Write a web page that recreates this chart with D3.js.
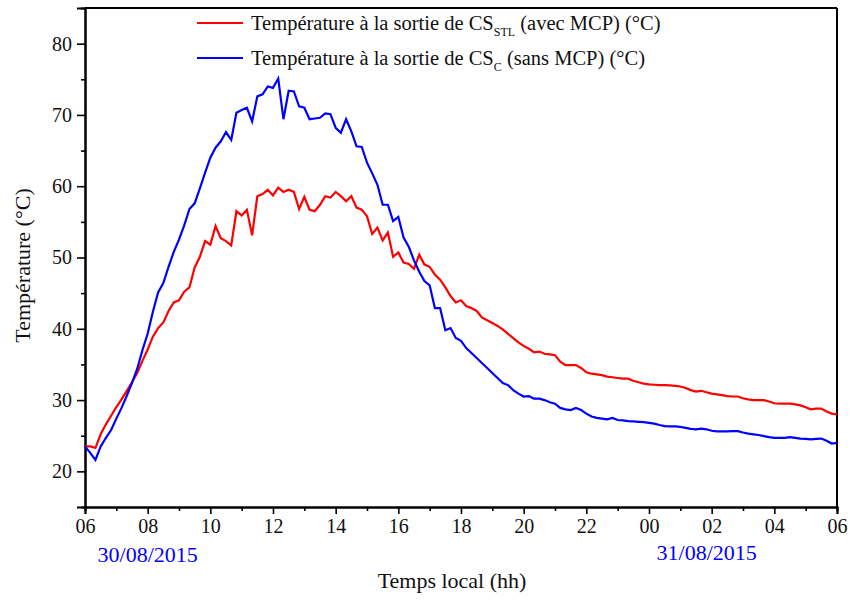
<!DOCTYPE html>
<html>
<head>
<meta charset="utf-8">
<script src="https://cdn.jsdelivr.net/npm/d3@7"></script>
<style>
  body { margin: 0; background: #fff; }
  svg, svg text { font-family: "Liberation Serif", "Times New Roman", serif; }
</style>
</head>
<body>
<div id="chart"></div>
<script>
// readings every 10 minutes, from 06:00 (30/08/2015) to 06:00 (31/08/2015)
const stepMinutes = 10;

const tempWithMCP = [
  23.5, 23.5, 23.3, 25.2, 26.6, 27.8, 29.0, 30.1, 31.3, 32.5,
  33.8, 35.5, 37.1, 38.9, 40.1, 40.9, 42.5, 43.7, 44.0, 45.2,
  45.8, 48.6, 50.1, 52.3, 51.8, 54.4, 52.7, 52.3, 51.7, 56.5,
  55.9, 56.7, 53.1, 58.6, 58.9, 59.5, 58.7, 59.8, 59.2, 59.5,
  59.2, 56.8, 58.5, 56.7, 56.5, 57.4, 58.6, 58.4, 59.2, 58.6,
  57.9, 58.6, 57.0, 56.7, 55.8, 53.3, 54.2, 52.4, 53.5, 50.1,
  50.7, 49.3, 49.1, 48.4, 50.4, 49.0, 48.7, 47.6, 46.9, 45.8,
  44.6, 43.7, 44.0, 43.2, 42.9, 42.5, 41.6, 41.2, 40.8, 40.4,
  39.9, 39.3, 38.7, 38.1, 37.6, 37.2, 36.7, 36.8, 36.5, 36.4,
  36.3, 35.4, 34.9, 34.9, 34.9, 34.5, 33.9, 33.7, 33.6, 33.5,
  33.3, 33.2, 33.1, 33.0, 33.0, 32.7, 32.5, 32.3, 32.2, 32.15,
  32.1, 32.1, 32.05, 32.0, 31.9, 31.7, 31.4, 31.2, 31.3, 31.1,
  30.9, 30.8, 30.7, 30.55, 30.5, 30.5, 30.25, 30.1, 30.0, 30.0,
  30.0, 29.8, 29.55, 29.5, 29.5, 29.5, 29.4, 29.25, 29.0, 28.7,
  28.8, 28.8, 28.4, 28.1, 28.0
];

const tempWithoutMCP = [
  23.5, 22.6, 21.6, 23.5, 24.7, 25.8, 27.4, 28.9, 30.6, 32.4,
  34.4, 37.0, 39.3, 42.4, 45.1, 46.4, 48.7, 50.8, 52.5, 54.5,
  56.8, 57.6, 59.7, 61.9, 64.0, 65.4, 66.3, 67.6, 66.5, 70.3,
  70.7, 71.0, 69.1, 72.6, 72.9, 74.0, 73.8, 75.1, 69.4, 73.4,
  73.3, 71.2, 71.0, 69.4, 69.5, 69.6, 70.2, 70.1, 68.2, 67.5,
  69.4, 67.7, 65.6, 65.5, 63.3, 61.8, 60.2, 57.4, 57.4, 55.1,
  55.7, 52.8, 51.5, 49.6, 48.0, 46.7, 46.1, 42.9, 42.9, 39.8,
  40.1, 38.7, 38.3, 37.3, 36.6, 35.9, 35.2, 34.5, 33.8, 33.1,
  32.4, 32.1, 31.4, 30.9, 30.5, 30.55, 30.2, 30.2, 30.0, 29.7,
  29.5, 28.9, 28.7, 28.6, 28.9, 28.6, 28.1, 27.7, 27.5, 27.4,
  27.3, 27.5, 27.2, 27.15, 27.05, 27.0, 26.95, 26.9, 26.8, 26.7,
  26.5, 26.35, 26.3, 26.3, 26.25, 26.1, 25.95, 25.9, 26.0, 25.9,
  25.7, 25.6, 25.6, 25.6, 25.65, 25.65, 25.45, 25.3, 25.2, 25.1,
  24.95, 24.8, 24.7, 24.7, 24.7, 24.8, 24.7, 24.6, 24.55, 24.5,
  24.55, 24.6, 24.3, 23.9, 24.0
];

// x ticks: hours elapsed since 06:00 and the clock label shown
const xTickHours = [0, 2, 4, 6, 8, 10, 12, 14, 16, 18, 20, 22, 24];
const xTickLabels = ['06', '08', '10', '12', '14', '16', '18', '20', '22', '00', '02', '04', '06'];
const yTicks = [20, 30, 40, 50, 60, 70, 80];

const svgWidth = 850;
const svgHeight = 600;
const margin = { top: 8, right: 13, bottom: 93, left: 85 };
const plotW = svgWidth - margin.left - margin.right;
const plotH = svgHeight - margin.top - margin.bottom;

const svg = d3.select('#chart')
  .append('svg')
  .attr('width', svgWidth)
  .attr('height', svgHeight);

const g = svg.append('g')
  .attr('transform', 'translate(' + margin.left + ',' + margin.top + ')');

const xScale = d3.scaleLinear().domain([0, 24]).range([0, plotW]);
const yScale = d3.scaleLinear().domain([15, 85]).range([plotH, 0]);

// minor ticks first
g.append('g')
  .attr('class', 'axis')
  .attr('transform', 'translate(0,' + plotH + ')')
  .call(d3.axisBottom(xScale).tickValues(d3.range(1, 24, 2)).tickSize(4).tickFormat(''));

g.append('g')
  .attr('class', 'axis')
  .call(d3.axisLeft(yScale).tickValues([25, 35, 45, 55, 65, 75]).tickSize(4).tickFormat(''));

// major ticks
const xAxis = d3.axisBottom(xScale)
  .tickValues(xTickHours)
  .tickSize(7)
  .tickPadding(5)
  .tickFormat((d, i) => xTickLabels[i]);

g.append('g')
  .attr('class', 'axis')
  .attr('transform', 'translate(0,' + plotH + ')')
  .call(xAxis);

const yAxis = d3.axisLeft(yScale)
  .tickValues(yTicks)
  .tickSize(8)
  .tickPadding(5)
  .tickFormat(d3.format('d'));

g.append('g')
  .attr('class', 'axis')
  .call(yAxis);

g.selectAll('.axis').attr('font-family', null);
g.selectAll('.axis path').attr('stroke', '#000').attr('stroke-width', 2);
g.selectAll('.axis line').attr('stroke', '#000').attr('stroke-width', 1.6);
g.selectAll('.axis text')
  .style('font-family', '"Liberation Serif", serif')
  .attr('font-size', 20)
  .attr('fill', '#111');

// frame on top and right
g.append('line')
  .attr('x1', 0).attr('x2', plotW).attr('y1', 0).attr('y2', 0)
  .attr('stroke', '#000').attr('stroke-width', 2);
g.append('line')
  .attr('x1', plotW).attr('x2', plotW).attr('y1', 0).attr('y2', plotH)
  .attr('stroke', '#000').attr('stroke-width', 2);

const line = d3.line()
  .x((d, i) => xScale(i * stepMinutes / 60))
  .y(d => yScale(d));

g.append('path')
  .datum(tempWithMCP)
  .attr('fill', 'none')
  .attr('stroke', '#ff0000')
  .attr('stroke-width', 2.2)
  .attr('d', line);

g.append('path')
  .datum(tempWithoutMCP)
  .attr('fill', 'none')
  .attr('stroke', '#0000ff')
  .attr('stroke-width', 2.2)
  .attr('d', line);

// dates under the x axis
g.append('text')
  .text('30/08/2015')
  .attr('x', xScale(2))
  .attr('y', plotH + 55)
  .attr('text-anchor', 'middle')
  .attr('font-size', 22)
  .attr('fill', '#0000ff');

g.append('text')
  .text('31/08/2015')
  .attr('x', xScale(20) - 5)
  .attr('y', plotH + 53)
  .attr('text-anchor', 'middle')
  .attr('font-size', 22)
  .attr('fill', '#0000ff');

// axis titles
svg.append('text')
  .text('Temps local (hh)')
  .attr('x', margin.left + plotW / 2 - 9)
  .attr('y', 588)
  .attr('text-anchor', 'middle')
  .attr('font-size', 22)
  .attr('fill', '#111');

svg.append('text')
  .text('Température (°C)')
  .attr('transform', 'translate(30,' + (margin.top + plotH / 2 + 8) + ') rotate(-90)')
  .attr('text-anchor', 'middle')
  .attr('font-size', 22)
  .attr('fill', '#111');

// legend
const legend = svg.append('g').attr('id', 'legend');

const legendItems = [
  { color: '#ff0000', sub: 'STL', rest: ' (avec MCP) (°C)', y: 23 },
  { color: '#0000ff', sub: 'C', rest: ' (sans MCP) (°C)', y: 58 }
];

legendItems.forEach(item => {
  legend.append('line')
    .attr('x1', 197).attr('x2', 243)
    .attr('y1', item.y).attr('y2', item.y)
    .attr('stroke', item.color)
    .attr('stroke-width', 2.2);

  const t = legend.append('text')
    .attr('x', 251)
    .attr('y', item.y + 7)
    .attr('font-size', 20.5)
    .attr('fill', '#111');
  t.append('tspan').text('Température à la sortie de CS');
  t.append('tspan').text(item.sub).attr('font-size', 12).attr('dy', 6);
  t.append('tspan').text(item.rest).attr('dy', -6);
});
</script>
</body>
</html>
